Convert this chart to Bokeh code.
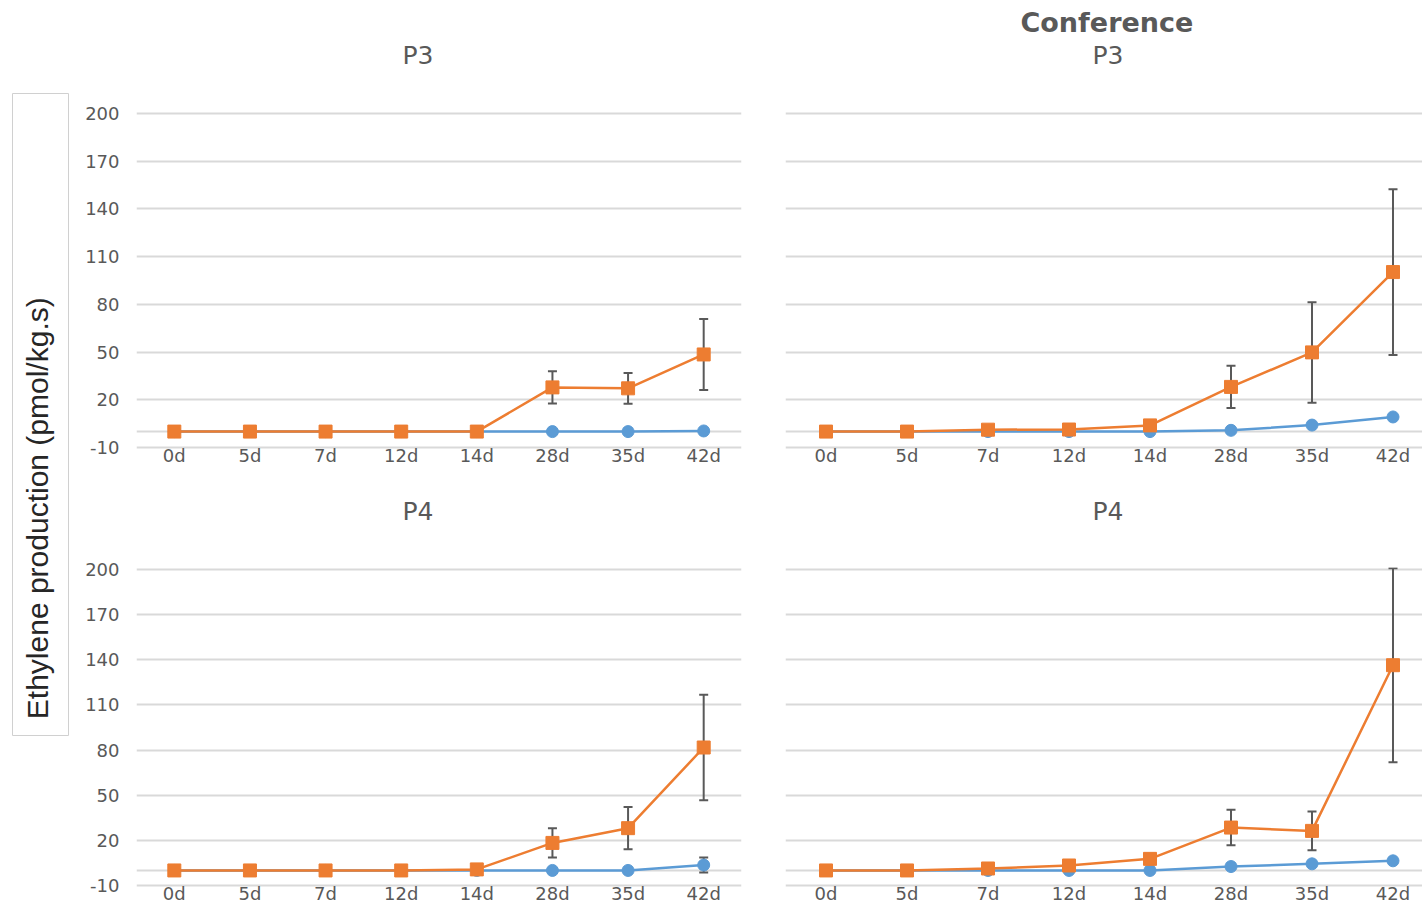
import math
from bokeh.plotting import figure
from bokeh.models import (Range1d, FixedTicker, ColumnDataSource, Whisker, TeeHead,
                          Span, Title, Label)
from bokeh.layouts import row, column
from bokeh.embed import file_html
from bokeh.resources import INLINE

# ---------------- data ----------------
categories = ["0d", "5d", "7d", "12d", "14d", "28d", "35d", "42d"]
y_ticks = [-10, 20, 50, 80, 110, 140, 170, 200]

# top-left: P3
p3_orange = [0, 0, 0, 0, 0, 27.8, 27.2, 48.5]
p3_orange_err = [0, 0, 0, 0, 0, 10.1, 9.7, 22.3]
p3_blue = [0, 0, 0, 0, 0, 0, 0, 0.4]
p3_blue_err = [0, 0, 0, 0, 0, 0, 0, 0]

# top-right: Conference P3
conf_p3_orange = [0, 0, 1.2, 1.3, 3.9, 28.1, 49.8, 100.3]
conf_p3_orange_err = [0, 0, 0, 0, 0, 13.3, 31.6, 52.1]
conf_p3_blue = [0, 0, 0, 0, 0, 0.8, 4.1, 9.2]
conf_p3_blue_err = [0, 0, 0, 0, 0, 0, 0, 0]

# bottom-left: P4
p4_orange = [0, 0, 0, 0, 0.7, 18.3, 28.1, 81.7]
p4_orange_err = [0, 0, 0, 0, 0, 9.7, 14.0, 35.0]
p4_blue = [0, 0, 0, 0, 0, 0, 0, 3.6]
p4_blue_err = [0, 0, 0, 0, 0, 0, 0, 5.0]

# bottom-right: Conference P4
conf_p4_orange = [0, 0, 1.3, 3.3, 7.7, 28.5, 26.3, 136.4]
conf_p4_orange_err = [0, 0, 0, 0, 0, 11.8, 12.8, 64.5]
conf_p4_blue = [0, 0, 0, 0, 0, 2.6, 4.4, 6.4]
conf_p4_blue_err = [0, 0, 0, 0, 0, 0, 0, 0]

y_label = "Ethylene production (pmol/kg.s)"

# ---------------- style ----------------
ORANGE = "#ED7D31"
BLUE = "#5B9BD5"
GRID = "#D9D9D9"
TEXT = "#595959"
ERR = "#595959"
FONT = "DejaVu Sans"


def add_errors(p, xs, vals, errs):
    idx = [i for i, e in enumerate(errs) if e > 0]
    if not idx:
        return
    src = ColumnDataSource(dict(
        x=[xs[i] for i in idx],
        upper=[vals[i] + errs[i] for i in idx],
        lower=[vals[i] - errs[i] for i in idx],
    ))
    w = Whisker(base="x", upper="upper", lower="lower", source=src,
                dimension="height", line_color=ERR, line_width=2,
                upper_head=TeeHead(size=9, line_color=ERR, line_width=2),
                lower_head=TeeHead(size=9, line_color=ERR, line_width=2),
                level="underlay")
    p.add_layout(w)


def make_panel(orange, orange_err, blue, blue_err, title, super_title=None,
               left=True, top=True):
    if left:
        frame_w, x_end, mbl, mbr = 605, 7.5, 58, 22
        t_off, s_off = 266, 235
    else:
        frame_w, x_end, mbl, mbr = 637, -0.5 + 637 / 81.0, 22, 0
        t_off, s_off = 307, 235
    if top:
        frame_h, y_rng, mbt, mbb = 338, (-11.26, 201.26), 111, 21
    else:
        frame_h, y_rng, mbt, mbb = 320, (-11.33, 201.33), 97, 18

    p = figure(frame_width=frame_w, frame_height=frame_h,
               x_range=Range1d(-0.5, x_end), y_range=Range1d(*y_rng),
               min_border_left=mbl, min_border_right=mbr,
               min_border_top=mbt, min_border_bottom=mbb,
               y_axis_location="left" if left else None,
               output_backend="svg", toolbar_location=None)
    p.outline_line_color = None
    p.background_fill_color = "white"
    p.border_fill_color = "white"

    xs = list(range(len(categories)))

    # axes
    p.xaxis.ticker = FixedTicker(ticks=xs)
    p.xaxis.major_label_overrides = {i: c for i, c in enumerate(categories)}
    p.xaxis.axis_line_color = None
    p.xaxis.major_tick_line_color = None
    p.xaxis.minor_tick_line_color = None
    p.xaxis.major_tick_out = 0
    p.xaxis.major_label_standoff = -5
    p.xaxis.major_label_text_font = FONT
    p.xaxis.major_label_text_font_size = "18px"
    p.xaxis.major_label_text_color = TEXT
    if left:
        p.yaxis.ticker = FixedTicker(ticks=y_ticks)
        p.yaxis.major_label_overrides = {t: str(t) for t in y_ticks}
        p.yaxis.axis_line_color = None
        p.yaxis.major_tick_line_color = None
        p.yaxis.minor_tick_line_color = None
        p.yaxis.major_tick_out = 0
        p.yaxis.major_label_standoff = 17
        p.yaxis.major_label_text_font = FONT
        p.yaxis.major_label_text_font_size = "18px"
        p.yaxis.major_label_text_color = TEXT

    p.xgrid.visible = False
    p.ygrid.ticker = FixedTicker(ticks=y_ticks)
    p.ygrid.grid_line_color = GRID
    p.ygrid.grid_line_width = 2
    p.add_layout(Span(location=0, dimension="width", line_color=GRID,
                      line_width=2, level="underlay"))

    add_errors(p, xs, blue, blue_err)
    add_errors(p, xs, orange, orange_err)

    p.line(xs, blue, line_color=BLUE, line_width=2.5)
    p.scatter(xs, blue, marker="circle", size=12, fill_color=BLUE,
              line_color=BLUE)
    p.line(xs, orange, line_color=ORANGE, line_width=2.5)
    p.scatter(xs, orange, marker="square", size=13, fill_color=ORANGE,
              line_color=ORANGE)

    # spacer between frame and panel title
    p.add_layout(Title(text=" ", text_font_size="1px", standoff=39), "above")
    p.add_layout(Title(text=title, align="left", offset=t_off,
                       text_font=FONT, text_font_size="25px",
                       text_font_style="normal", text_color=TEXT,
                       standoff=0), "above")
    if super_title:
        p.add_layout(Title(text=super_title, align="left", offset=s_off,
                           text_font=FONT, text_font_size="27px",
                           text_font_style="bold", text_color=TEXT,
                           standoff=2), "above")
    return p


tl = make_panel(p3_orange, p3_orange_err, p3_blue, p3_blue_err, "P3",
                left=True, top=True)
tr = make_panel(conf_p3_orange, conf_p3_orange_err, conf_p3_blue,
                conf_p3_blue_err, "P3", super_title="Conference",
                left=False, top=True)
bl = make_panel(p4_orange, p4_orange_err, p4_blue, p4_blue_err, "P4",
                left=True, top=False)
br = make_panel(conf_p4_orange, conf_p4_orange_err, conf_p4_blue,
                conf_p4_blue_err, "P4", left=False, top=False)

# y-axis label box spanning both rows
lab = figure(frame_width=56, frame_height=642,
             x_range=Range1d(0, 1), y_range=Range1d(0, 1),
             min_border_left=12, min_border_right=10,
             min_border_top=93, min_border_bottom=170,
             x_axis_location=None, y_axis_location=None,
             output_backend="svg", toolbar_location=None)
lab.grid.visible = False
lab.outline_line_color = "#D0D0D0"
lab.outline_line_width = 1
lab.add_layout(Label(x=0.45, y=0.354, text=y_label, angle=math.pi / 2,
                     text_align="center", text_baseline="middle",
                     text_font="Liberation Sans", text_font_size="30px",
                     text_color="#262626"))

layout = row(lab, column(row(tl, tr), row(bl, br)))

open("out.html", "w").write(file_html(layout, INLINE))
